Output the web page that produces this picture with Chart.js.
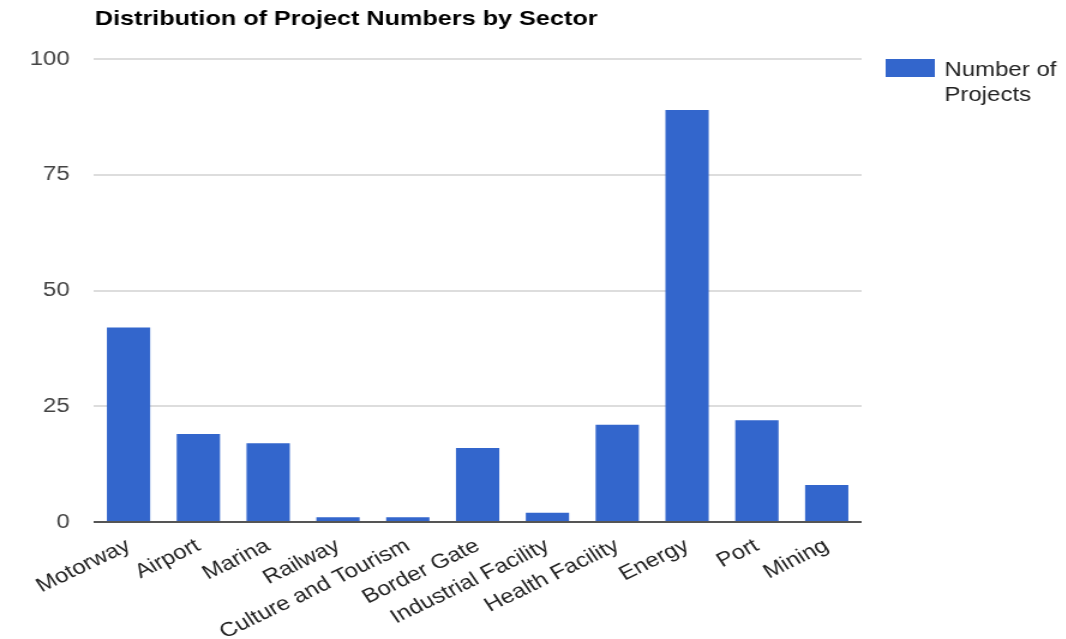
<!DOCTYPE html>
<html>
<head>
<meta charset="utf-8">
<script src="https://cdn.jsdelivr.net/npm/chart.js@4.4.1/dist/chart.umd.min.js"></script>
<style>
  html, body { margin: 0; padding: 0; background: #fff; overflow: hidden; }
  #wrap { width: 1066px; height: 639px; }
  /* canvas is drawn narrower and widened by css, like the old exported chart */
  #grafico_setor { display: block; transform: scaleX(1.2); transform-origin: 0 0; }
</style>
</head>
<body>
<div id="wrap">
  <canvas id="grafico_setor" width="888" height="639" style="width:888px;height:639px"></canvas>
</div>
<script>
const setores = ['Motorway', 'Airport', 'Marina', 'Railway', 'Culture and Tourism', 'Border Gate',
  'Industrial Facility', 'Health Facility', 'Energy', 'Port', 'Mining'];
const projetos = [42, 19, 17, 1, 1, 16, 2, 21, 89, 22, 8];
const ticksY = [0, 25, 50, 75, 100];
const titulo = 'Distribution of Project Numbers by Sector';
const nomeSerie = ['Number of', 'Projects'];

const fonte = '"Liberation Sans", Arial, sans-serif';

// title and legend drawn by hand, Google-chart style
const extras = {
  id: 'extras',
  afterDraw(chart) {
    const ctx = chart.ctx;
    const area = chart.chartArea;
    ctx.save();
    ctx.fillStyle = '#000';
    ctx.font = 'bold 21px ' + fonte;
    ctx.textAlign = 'left';
    ctx.textBaseline = 'alphabetic';
    ctx.fillText(titulo, area.left + 1, 25);

    const ds = chart.data.datasets[0];
    ctx.fillStyle = ds.backgroundColor;
    ctx.fillRect(area.right + 20, 59, 41, 18);
    ctx.fillStyle = '#222';
    ctx.font = '20px ' + fonte;
    nomeSerie.forEach((linha, i) => ctx.fillText(linha, area.right + 69, 76 + i * 25));
    ctx.restore();
  }
};

const ctx = document.getElementById('grafico_setor').getContext('2d');
const grafico = new Chart(ctx, {
  type: 'bar',
  data: {
    labels: setores,
    datasets: [{
      label: nomeSerie.join(' '),
      data: projetos,
      backgroundColor: '#3366cc',
      borderWidth: 0,
      barPercentage: 0.62,
      categoryPercentage: 1
    }]
  },
  options: {
    responsive: false,
    animation: false,
    layout: { padding: { left: 0, right: 170, top: 59, bottom: 0 } },
    plugins: {
      legend: { display: false },
      title: { display: false },
      tooltip: { enabled: false }
    },
    scales: {
      x: {
        grid: { display: false },
        border: { display: false },
        ticks: {
          autoSkip: false,
          minRotation: 30,
          maxRotation: 30,
          padding: 4,
          color: '#222',
          font: { family: fonte, size: 20 }
        },
        afterFit(scale) { scale.height = 117; }
      },
      y: {
        min: 0,
        max: 100,
        afterBuildTicks(scale) { scale.ticks = ticksY.map(v => ({ value: v })); },
        grid: {
          color: c => c.tick.value === 0 ? '#555' : '#dddddd',
          lineWidth: 2,
          drawTicks: false
        },
        border: { display: false },
        ticks: {
          padding: 20,
          color: '#444',
          font: { family: fonte, size: 20 }
        },
        afterFit(scale) { scale.width = 78; }
      }
    }
  },
  plugins: [extras]
});
</script>
</body>
</html>
